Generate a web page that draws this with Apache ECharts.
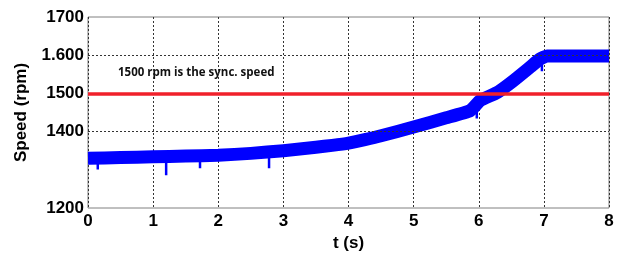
<!DOCTYPE html>
<html>
<head>
<meta charset="utf-8">
<script src="https://cdn.jsdelivr.net/npm/echarts@6/dist/echarts.min.js"></script>
<style>
html, body { margin: 0; padding: 0; background: #fff; }
#chart { width: 622px; height: 257px; }
</style>
</head>
<body>
<div id="chart"></div>
<script>
// 数据：转速曲线（中心线）
var timeS = [0, 0.5, 1, 1.5, 2, 2.5, 3, 3.5, 3.75, 4, 4.25, 4.5, 5, 5.5, 5.87, 6.02, 6.28, 6.53, 6.79, 6.94, 7.05, 7.5, 8];
var speedRpm = [1330, 1332, 1334, 1336, 1338, 1343, 1350, 1359, 1364, 1370, 1379, 1389, 1412, 1436, 1455, 1481, 1502, 1533, 1569, 1590, 1598, 1598, 1598];

// 向下的毛刺：[时间, 中心值, 最低值]
var spikeT = [0.15, 1.2, 1.72, 2.78, 5.97, 6.97];
var spikeTop = [1330, 1334, 1337, 1348, 1470, 1594];
var spikeLow = [1301, 1286, 1304, 1304, 1434, 1558];

var syncSpeed = 1500;
var gridValues = [1400, 1600];

var chart = echarts.init(document.getElementById('chart'));

var speedData = timeS.map(function (t, i) { return [t, speedRpm[i]]; });
var spikeData = [];
spikeT.forEach(function (t, i) {
	spikeData.push([t, spikeTop[i]]);
	spikeData.push([t, spikeLow[i]]);
	spikeData.push([t, '-']);
});

var boldFont = { fontFamily: 'Liberation Sans', fontWeight: 'bold', fontSize: 17, color: '#000' };

var option = {
	animation: false,
	grid: {
		left: 88,
		right: 13,
		top: 17,
		bottom: 47,
		show: true,
		borderColor: '#808080',
		borderWidth: 1
	},
	xAxis: {
		type: 'value',
		min: 0,
		max: 8,
		interval: 1,
		name: 't (s)',
		nameLocation: 'middle',
		nameGap: 27,
		nameTextStyle: boldFont,
		axisLine: { show: false },
		axisTick: { show: false },
		axisLabel: Object.assign({ margin: 5 }, boldFont),
		splitLine: { show: true, lineStyle: { type: [2, 2], color: '#333', width: 1 } }
	},
	yAxis: {
		type: 'value',
		min: 1200,
		max: 1700,
		interval: 100,
		name: 'Speed (rpm)',
		nameLocation: 'middle',
		nameGap: 58,
		nameTextStyle: boldFont,
		axisLine: { show: false },
		axisTick: { show: false },
		axisLabel: Object.assign({
			margin: 4,
			formatter: function (v) {
				if (v === 1300) return '';
				if (v === 1600) return '1.600';
				return v;
			}
		}, boldFont),
		splitLine: { show: false }
	},
	graphic: [{
		type: 'text',
		left: 118,
		top: 67,
		style: {
			text: '1500 rpm is the sync. speed',
			font: 'bold 11.5px "Open Sans", sans-serif',
			fill: '#111'
		}
	}],
	series: [{
		// 水平网格线
		type: 'line',
		data: [],
		z: 1,
		markLine: {
			silent: true,
			symbol: 'none',
			label: { show: false },
			lineStyle: { type: [2, 2], color: '#333', width: 1 },
			data: gridValues.map(function (v) { return { yAxis: v }; })
		}
	}, {
		name: 'speed',
		type: 'line',
		data: speedData,
		symbol: 'none',
		smooth: 0.15,
		z: 3,
		lineStyle: { color: '#0000ff', width: 13, cap: 'butt', join: 'round' }
	}, {
		name: 'spikes',
		type: 'line',
		data: spikeData,
		symbol: 'none',
		connectNulls: false,
		z: 3,
		lineStyle: { color: '#0000ff', width: 2.5 }
	}, {
		name: 'sync',
		type: 'line',
		data: [],
		z: 4,
		markLine: {
			silent: true,
			symbol: 'none',
			label: { show: false },
			lineStyle: { type: 'solid', color: '#f0202a', width: 3.5 },
			data: [{ yAxis: syncSpeed }]
		}
	}]
};

chart.setOption(option);
</script>
</body>
</html>
